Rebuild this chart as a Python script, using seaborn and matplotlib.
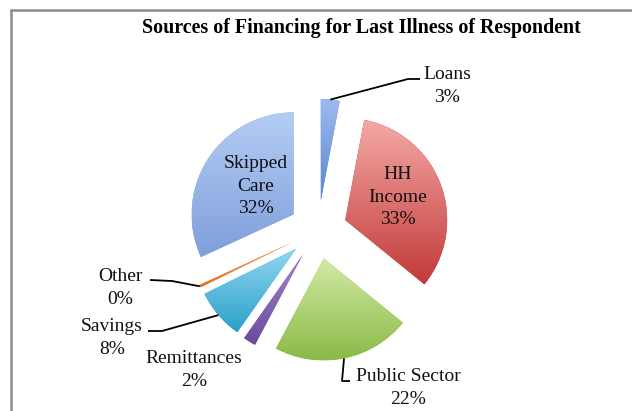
import numpy as np
import matplotlib
matplotlib.use("Agg")
import matplotlib.pyplot as plt
import seaborn as sns
from matplotlib.colors import LinearSegmentedColormap
from matplotlib.lines import Line2D

# ---------------- data ----------------
categories = ["Loans", "HH Income", "Public Sector", "Remittances", "Savings", "Other", "Skipped Care"]
values = [3, 33, 22, 2, 8, 0.4, 32]
title = "Sources of Financing for Last Illness of Respondent"

# ---------------- style ----------------
top_colors = ["#9dbbef", "#f4a9a6", "#d3eaa6", "#a486cf", "#93d6f2", "#f6a865", "#b4cdf5"]
bot_colors = ["#5a85cf", "#c23a39", "#8aba47", "#6a4a9c", "#2aa0c9", "#e2741f", "#7f9fd9"]

sns.set_theme(style="white")
plt.rcParams["font.family"] = ["Liberation Serif", "DejaVu Serif"]

W, H, DPI = 632, 411, 100
CX, CY, R = 318.0, 230.0, 102.0   # pie centre / radius in pixels


def px(x, y):
    """pixel (from top-left) -> data coords"""
    return (x - CX) / R, (CY - y) / R


fig = plt.figure(figsize=(W / DPI, H / DPI), dpi=DPI)
ax = fig.add_axes([0, 0, 1, 1])

wedges, _ = ax.pie(values, startangle=90, counterclock=False,
                   explode=[0.284] * len(values), radius=1.0,
                   colors=bot_colors,
                   wedgeprops=dict(linewidth=0, edgecolor="none"))

ax.set_xlim(px(0, 0)[0], px(W, 0)[0])
ax.set_ylim(px(0, H)[1], px(0, 0)[1])
ax.set_aspect("equal", adjustable="box")
ax.axis("off")

# gradient fills clipped to each wedge
grad = np.linspace(1, 0, 256).reshape(-1, 1)
for w, c0, c1 in zip(wedges, top_colors, bot_colors):
    cx, cy = w.center
    th1, th2 = np.deg2rad(w.theta1), np.deg2rad(w.theta2)
    ang = np.linspace(th1, th2, 50)
    xs = np.concatenate([[cx], cx + w.r * np.cos(ang)])
    ys = np.concatenate([[cy], cy + w.r * np.sin(ang)])
    cmap = LinearSegmentedColormap.from_list("g", [c1, c0])
    im = ax.imshow(grad, cmap=cmap, extent=[xs.min(), xs.max(), ys.min(), ys.max()],
                   aspect="auto", zorder=2, interpolation="bilinear")
    im.set_clip_path(w)


def outer_mid(w):
    cx, cy = w.center
    a = np.deg2rad((w.theta1 + w.theta2) / 2)
    return cx + w.r * np.cos(a), cy + w.r * np.sin(a)


pct = [f"{round(v)}%" for v in values]
fs = 14
ls = 1.4

# labels inside slices
inside = {"HH Income": ((398, 197), "HH\nIncome"),
          "Skipped Care": ((256, 186), "Skipped\nCare")}
# outside labels with leader line bends (pixels)
outside = {"Loans": ((447, 86), [(408, 79), (420, 79)]),
           "Other": ((120, 288), [(172, 281), (150, 280)]),
           "Savings": ((112, 338), [(162, 331), (148, 331)]),
           "Remittances": ((194, 370), None),
           "Public Sector": ((408, 388), [(342, 381), (350, 381)])}

for i, (cat, w) in enumerate(zip(categories, wedges)):
    if cat in inside:
        (tx, ty), name = inside[cat]
        ax.text(*px(tx, ty), f"{name}\n{pct[i]}", ha="center", va="center",
                fontsize=fs, color="#111111", zorder=5, linespacing=ls)
    else:
        (tx, ty), bends = outside[cat]
        ax.text(*px(tx, ty), f"{cat}\n{pct[i]}", ha="center", va="center",
                fontsize=fs, color="#111111", zorder=5, linespacing=ls)
        if bends:
            ox, oy = outer_mid(w)
            lx = [ox] + [px(bx, by)[0] for bx, by in bends]
            ly = [oy] + [px(bx, by)[1] for bx, by in bends]
            ax.plot(lx, ly, color="black", lw=1.3, zorder=4, solid_capstyle="butt")

fig.text(361 / W, 1 - 28 / H, title, ha="center", va="center",
         fontsize=14.4, fontweight="bold", color="black")

# chart frame (left + top edges visible)
fig.add_artist(Line2D([11 / W, 11 / W], [0, 1 - 10 / H], color="#8c8c8c", lw=1.8,
                      transform=fig.transFigure))
fig.add_artist(Line2D([11 / W, 1], [1 - 10 / H, 1 - 10 / H], color="#8c8c8c", lw=1.8,
                      transform=fig.transFigure))

fig.savefig("out.png", dpi=DPI)
